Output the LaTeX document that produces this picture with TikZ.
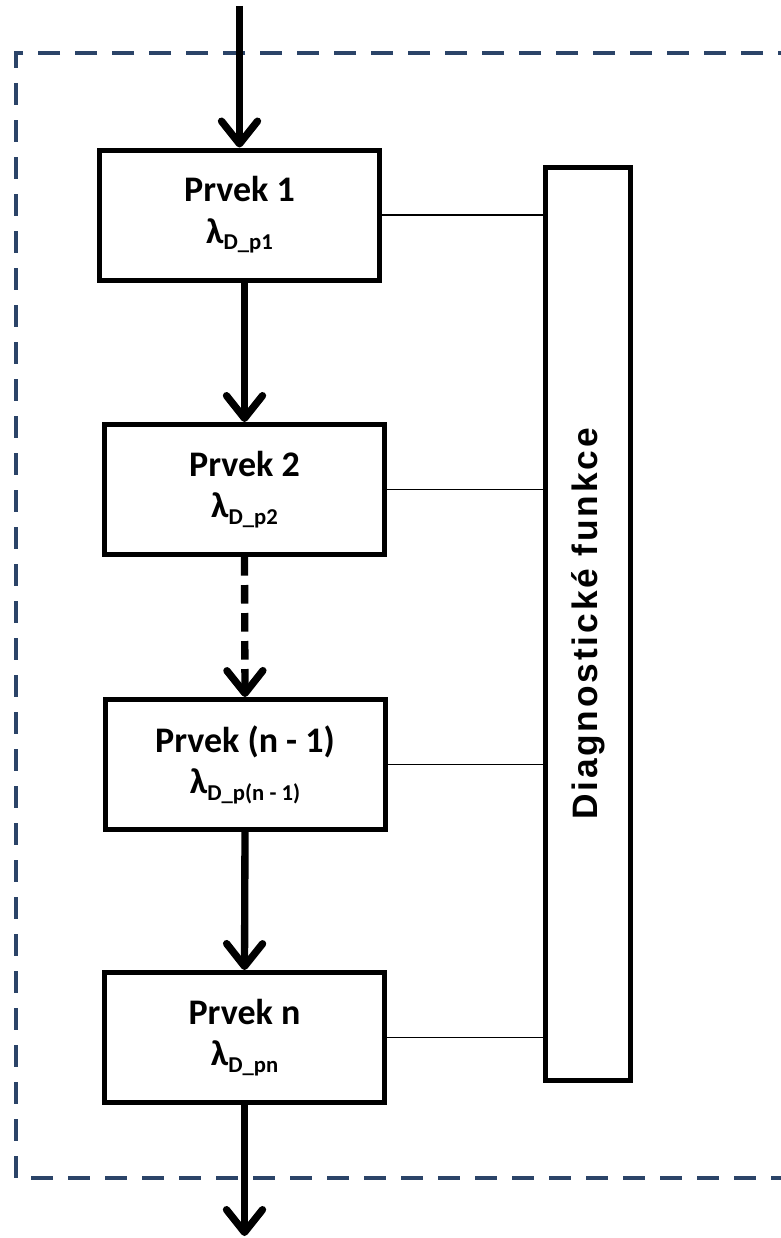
\documentclass[tikz,border=0pt]{standalone}
\usepackage{fontspec}
\setmainfont{Carlito}
\newfontfamily\diagfont[LetterSpace=8]{Liberation Sans Bold}
\usetikzlibrary{arrows.meta}
\definecolor{framecol}{HTML}{2B4468}
\newcommand{\lsub}[1]{\fontsize{27}{34}\selectfont λ\raisebox{-5pt}{\fontsize{17}{18}\selectfont #1}}
\begin{document}
\begin{tikzpicture}[x=0.75pt,y=-0.75pt,
  prvek/.style={draw=black, line width=3.75pt, minimum width=210pt, minimum height=97.5pt,
    inner sep=0pt, align=center, font=\bfseries\fontsize{27}{34}\selectfont},
  diagbox/.style={draw=black, line width=3.75pt, minimum width=63.75pt, minimum height=684.75pt, inner sep=0pt},
  flow/.style={line width=5.5pt, -{Straight Barb[length=17pt,width=27pt,round]}},
  link/.style={line width=1.3pt},
  frame/.style={draw=framecol, line width=3pt, dash pattern=on 16.5pt off 11.25pt}]
\useasboundingbox (0,0) rectangle (781,1238);
% dashed enclosure, running past the right edge
\begin{scope}
  \clip (0,0) rectangle (781,1238);
  \draw[frame] (800,53) -- (16,53) -- (16,1178) -- (800,1178);
\end{scope}
% elements of the chain
\node[prvek] (b1) at (239.5,215) {\raisebox{-4pt}{Prvek 1}\\[1pt]\lsub{D\_p1}};
\node[prvek] (b2) at (244.5,489.5) {\raisebox{-4pt}{Prvek 2}\\[1pt]\lsub{D\_p2}};
\node[prvek] (b3) at (245,764.5) {\raisebox{-4pt}{Prvek (n - 1)}\\[1pt]\lsub{D\_p(n - 1)}};
\node[prvek] (b4) at (244.5,1037.5) {\raisebox{-4pt}{Prvek n}\\[1pt]\lsub{D\_pn}};
% diagnostic functions block
\node[diagbox] (diag) at (588,624) {};
\node[rotate=90, font=\diagfont\fontsize{26.5}{30}\selectfont] (dtext) at (diag.center) {Diagnostické funkce};
% input and output
\coordinate (in) at (239.5,6);
\coordinate (out) at (244.5,1236);
\draw[flow] (in) -- (b1.north);
\draw[flow] (b1.south -| b2.north) -- (b2.north);
\draw[flow, dash pattern=on 14pt off 7pt] (b2.south) -- (b3.north);
\draw[flow] (b3.south) -- (b4.north);
\draw[flow] (b4.south) -- (out);
% links to the diagnostic block
\draw[link] (b1.east) -- (b1.east -| diag.west);
\draw[link] (b2.east) -- (b2.east -| diag.west);
\draw[link] (b3.east) -- (b3.east -| diag.west);
\draw[link] (b4.east) -- (b4.east -| diag.west);
\end{tikzpicture}
\end{document}
